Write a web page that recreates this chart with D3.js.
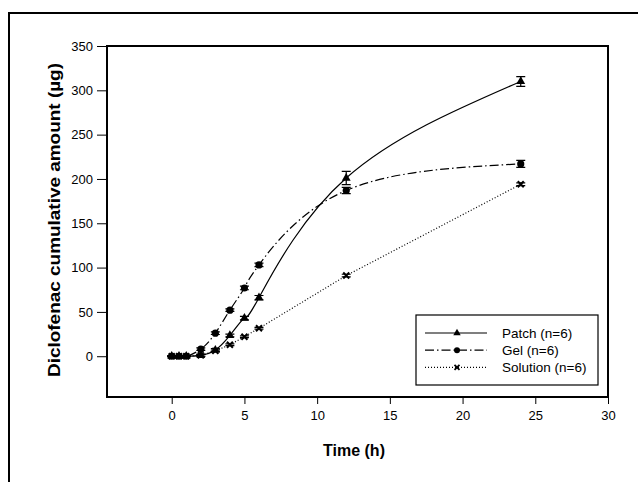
<!DOCTYPE html>
<html>
<head>
<meta charset="utf-8">
<script src="https://cdn.jsdelivr.net/npm/d3@7"></script>
<style>
  body { margin: 0; background: #fff; }
  text { font-family: "Liberation Sans", Arial, sans-serif; }
</style>
</head>
<body>
<svg width="638" height="482"></svg>
<script>
const times = [0, 0.5, 1, 2, 3, 4, 5, 6, 12, 24]
const patch = [0, 0, 0, 1, 7, 23.5, 43, 66, 201, 310]
const patchErr = [0.5, 0.5, 0.5, 1, 1.5, 1.5, 2, 2.5, 7.5, 5.5]
const gel = [0, 0, 0, 8, 26, 52, 77, 103, 187, 217]
const gelErr = [0.5, 0.5, 0.5, 1.5, 1.5, 1.5, 2, 2, 3.5, 4]
const solution = [0, 0, 0, 1, 6, 13, 22, 31.5, 91, 194]
const solutionErr = [0.5, 0.5, 0.5, 1, 1, 1, 1, 1, 1.5, 1.5]
const xTicks = [0, 5, 10, 15, 20, 25, 30]
const yTicks = [0, 50, 100, 150, 200, 250, 300, 350]

const series = [
  {name: 'Patch (n=6)', values: patch, err: patchErr, marker: 'triangle', dash: null},
  {name: 'Gel (n=6)', values: gel, err: gelErr, marker: 'circle', dash: '9,3,1.5,3'},
  {name: 'Solution (n=6)', values: solution, err: solutionErr, marker: 'cross', dash: '1,2'}
]

const svg = d3.select('svg')
const margin = {top: 46, right: 30, bottom: 85, left: 107}
const plotW = 608 - margin.left
const plotH = 397 - margin.top

// outer frame
svg.append('rect')
  .attr('x', 9).attr('y', 13)
  .attr('width', 640).attr('height', 480)
  .attr('fill', 'none').attr('stroke', '#000').attr('stroke-width', 2)

const g = svg.append('g').attr('transform', `translate(${margin.left},${margin.top})`)

const x = d3.scaleLinear().domain([-4.45, 30]).range([0, plotW])
const y = d3.scaleLinear().domain([-46, 350]).range([plotH, 0])

// axes
const xAxis = g.append('g')
  .attr('transform', `translate(0,${plotH})`)
  .call(d3.axisBottom(x).tickValues(xTicks).tickSize(7).tickPadding(7))
const yAxis = g.append('g')
  .call(d3.axisLeft(y).tickValues(yTicks).tickSize(10).tickPadding(4))

for (const ax of [xAxis, yAxis]) {
  ax.select('.domain').remove()
  ax.selectAll('text').attr('font-size', 13).attr('fill', '#000')
    .attr('font-family', '"Liberation Sans", Arial, sans-serif')
  ax.selectAll('line').attr('stroke', '#000')
}

g.append('rect')
  .attr('width', plotW).attr('height', plotH)
  .attr('fill', 'none').attr('stroke', '#000').attr('stroke-width', 2)

// axis titles
svg.append('text')
  .attr('x', 354).attr('y', 456)
  .attr('text-anchor', 'middle')
  .attr('font-size', 16).attr('font-weight', 'bold')
  .text('Time (h)')

svg.append('text')
  .attr('transform', 'translate(60,220) rotate(-90)')
  .attr('text-anchor', 'middle')
  .attr('font-size', 16).attr('font-weight', 'bold')
  .attr('textLength', 314).attr('lengthAdjust', 'spacingAndGlyphs')
  .text('Diclofenac cumulative amount (µg)')

function drawMarker(sel, type) {
  if (type === 'triangle') {
    sel.append('path').attr('d', d3.symbol(d3.symbolTriangle, 34)()).attr('fill', '#000')
  } else if (type === 'circle') {
    sel.append('circle').attr('r', 3.6).attr('fill', '#000')
  } else {
    sel.append('path').attr('d', 'M-3,-3L3,3M-3,3L3,-3')
      .attr('stroke', '#000').attr('stroke-width', 2).attr('fill', 'none')
  }
}

const line = d3.line()
  .x((d, i) => x(times[i]))
  .y(d => y(d))

for (const s of series) {
  const curve = s.marker === 'cross' ? d3.curveLinear : d3.curveNatural
  g.append('path')
    .datum(s.values)
    .attr('d', line.curve(curve))
    .attr('fill', 'none')
    .attr('stroke', '#000')
    .attr('stroke-width', 1.2)
    .attr('stroke-dasharray', s.dash)

  const pts = g.append('g').selectAll('g')
    .data(s.values)
    .join('g')
    .attr('transform', (d, i) => `translate(${x(times[i])},${y(d)})`)

  // error bars
  pts.append('path')
    .attr('d', (d, i) => {
      const e = y(0) - y(s.err[i])
      return `M0,${-e}V${e}M-4.5,${-e}H4.5M-4.5,${e}H4.5`
    })
    .attr('stroke', '#000').attr('stroke-width', 1.2).attr('fill', 'none')

  pts.each(function () { drawMarker(d3.select(this), s.marker) })
}

// legend
const legend = g.append('g').attr('transform', `translate(${416 - margin.left},${315 - margin.top})`)
legend.append('rect')
  .attr('width', 182).attr('height', 70)
  .attr('fill', '#fff').attr('stroke', '#000').attr('stroke-width', 1.2)

series.forEach((s, i) => {
  const row = legend.append('g').attr('transform', `translate(0,${18 + i * 17.2})`)
  row.append('line')
    .attr('x1', 9).attr('x2', 71)
    .attr('stroke', '#000').attr('stroke-width', 1.2)
    .attr('stroke-dasharray', s.dash)
  const m = row.append('g').attr('transform', 'translate(41,0)')
  if (s.marker === 'triangle') {
    m.append('path').attr('d', d3.symbol(d3.symbolTriangle, 24)()).attr('fill', '#000')
  } else if (s.marker === 'circle') {
    m.append('circle').attr('r', 3).attr('fill', '#000')
  } else {
    m.append('path').attr('d', 'M-2.5,-2.5L2.5,2.5M-2.5,2.5L2.5,-2.5')
      .attr('stroke', '#000').attr('stroke-width', 1.8)
  }
  row.append('text')
    .attr('x', 86).attr('y', 0).attr('dy', '0.35em')
    .attr('font-size', 13.5)
    .text(s.name)
})
</script>
</body>
</html>
